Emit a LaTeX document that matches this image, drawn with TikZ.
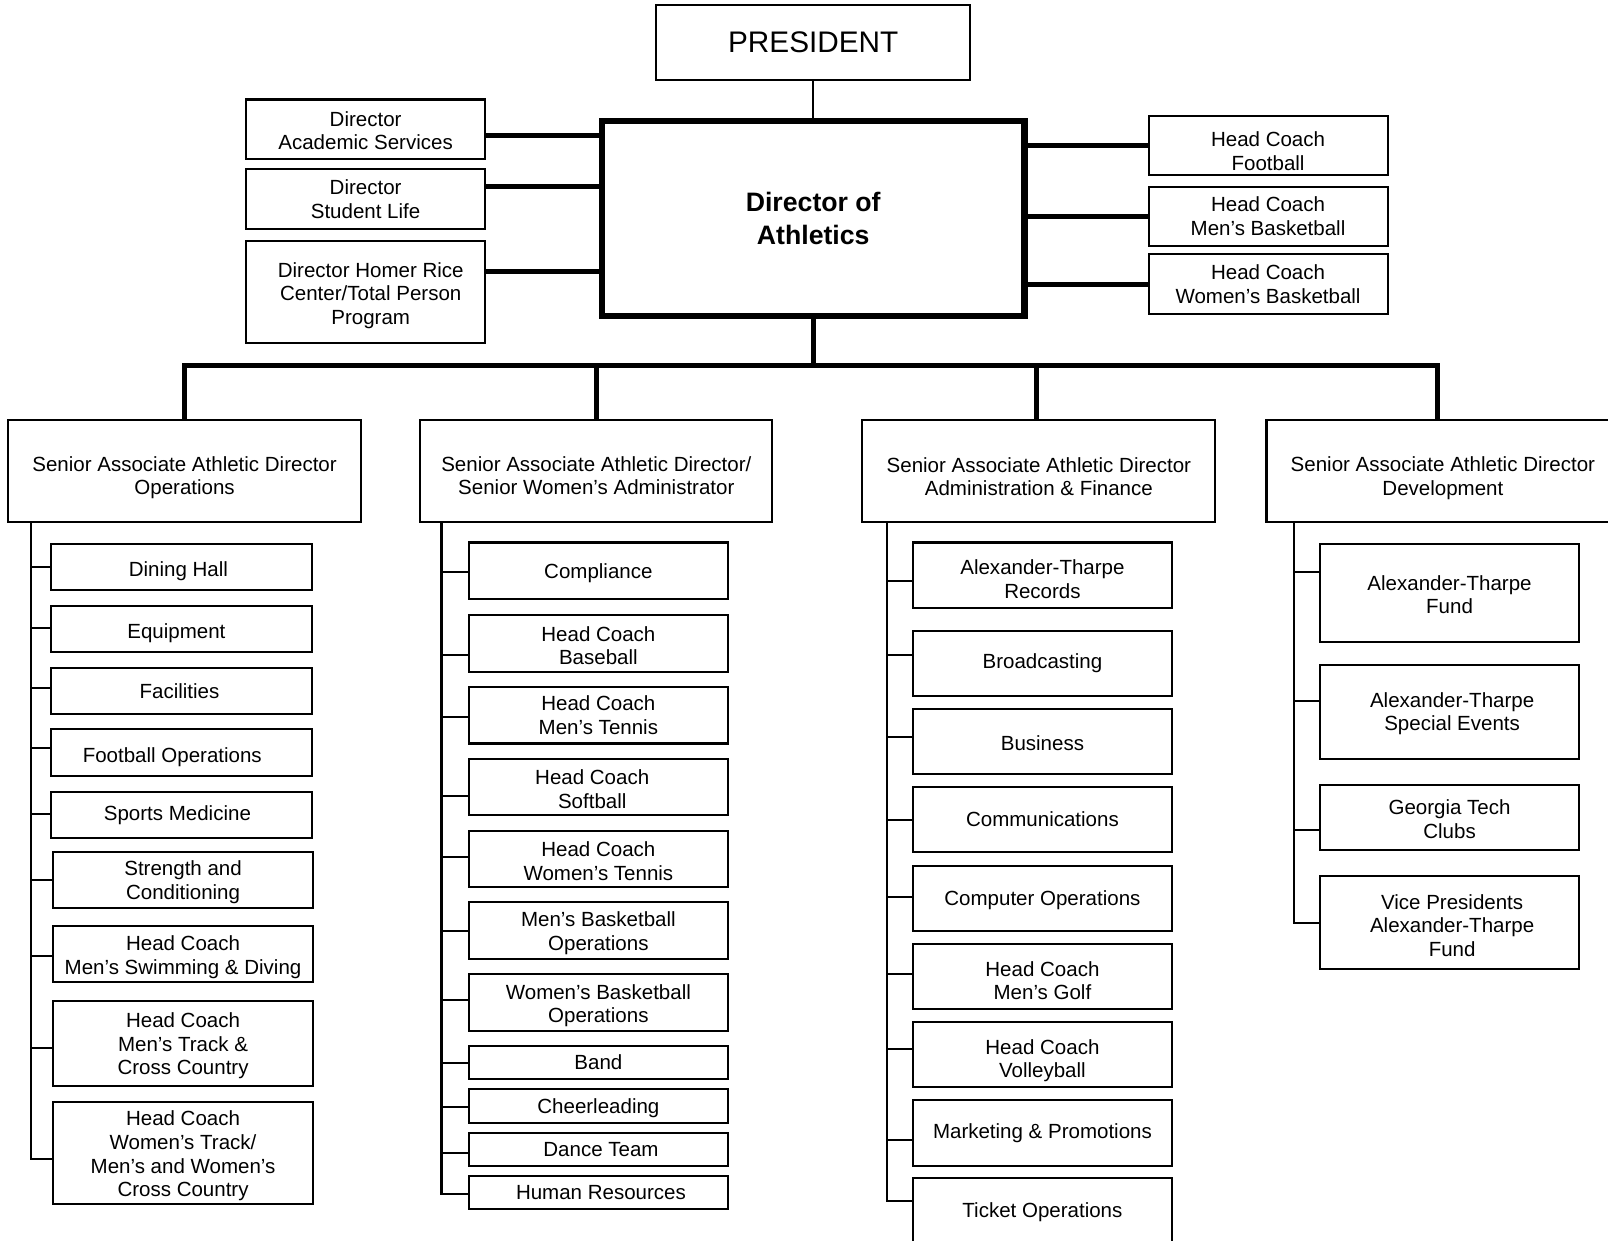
\documentclass[tikz,border=0pt]{standalone}
\usepackage{fontspec}
\setmainfont{Liberation Sans}
\newcommand\myup[1]{\rule{0pt}{#1}}
\begin{document}
\begin{tikzpicture}[x=1pt,y=-1pt,
  box/.style={draw, line width=2pt, inner sep=0pt, align=center, font=\fontsize{20}{23}\selectfont},
  lnk/.style={line width=2pt},
  heavy/.style={line width=5pt}]
\useasboundingbox (0,0) rectangle (1568,1210);
\clip (0,0) rectangle (1568,1210);
\fill[white] (0,0) rectangle (1568,1210);

% top
\node[box, minimum width=306pt, minimum height=73pt, font=\fontsize{29}{33}\selectfont] (pres) at (793,41.5) {PRESIDENT};
\node[box, line width=6pt, minimum width=412pt, minimum height=190pt, font=\bfseries\fontsize{26}{33}\selectfont] (da) at (793,213) {Director of\\Athletics};

\node[box, minimum width=233pt, minimum height=58pt] (acad) at (356.5,126) {\myup{17pt}Director\\Academic Services};
\node[box, minimum width=233pt, minimum height=58pt] (stud) at (356.5,194) {Director\\Student Life};
\node[box, minimum width=233pt, minimum height=99pt] (homer) at (356.5,284.5) {\myup{21.5pt}\hspace*{10pt}Director Homer Rice\\\hspace*{10pt}Center/Total Person\\\hspace*{10pt}Program};

\node[box, minimum width=233pt, minimum height=58pt] (hcf) at (1236.5,142) {\myup{25pt}Head Coach\\Football};
\node[box, minimum width=233pt, minimum height=58pt] (hcm) at (1236.5,211) {Head Coach\\Men’s Basketball};
\node[box, minimum width=233pt, minimum height=58pt] (hcw) at (1236.5,277) {Head Coach\\Women’s Basketball};

\draw[lnk] (pres.south) -- (da.north);
\draw[heavy] (acad.east |- 0,132) -- (da.west |- 0,132);
\draw[heavy] (stud.east |- 0,182) -- (da.west |- 0,182);
\draw[heavy] (homer.east |- 0,265) -- (da.west |- 0,265);
\draw[heavy] (da.east |- hcf.west) -- (hcf.west);
\draw[heavy] (da.east |- hcm.west) -- (hcm.west);
\draw[heavy] (da.east |- hcw.west) -- (hcw.west);

% level 2
\node[box, minimum width=344pt, minimum height=99pt] (ops) at (180,459.5) {\myup{27pt}Senior Associate Athletic Director\\Operations};
\node[box, minimum width=343pt, minimum height=99pt] (swa) at (581.5,459.5) {\myup{23pt}Senior Associate Athletic Director/\\Senior Women’s Administrator};
\node[box, minimum width=344pt, minimum height=99pt] (adm) at (1013,459.5) {\myup{25pt}Senior Associate Athletic Director\\Administration \& Finance};
\node[box, minimum width=344pt, minimum height=99pt] (dev) at (1407,459.5) {\myup{28pt}Senior Associate Athletic Director\\Development};

\coordinate (bus) at (793,356);
\draw[heavy] (da.south) -- (bus);
\draw[heavy] (ops.north) |- (bus) -| (dev.north -| 1402,0);
\draw[heavy] (swa.north) -- (swa.north |- bus);
\draw[heavy] (adm.north -| 1011,0) -- (1011,0 |- bus);

% operations column
\node[box, minimum width=254pt, minimum height=45pt] (dh) at (177,553) {\myup{23pt}Dining Hall\hspace*{6pt}};
\node[box, minimum width=254pt, minimum height=45pt] (eq) at (177,613.5) {\myup{23pt}Equipment\hspace*{10pt}};
\node[box, minimum width=254pt, minimum height=45pt] (fac) at (177,674) {Facilities\hspace*{4pt}};
\node[box, minimum width=254pt, minimum height=46pt] (fo) at (177,734) {\myup{23pt}Football Operations\hspace*{18pt}};
\node[box, minimum width=254pt, minimum height=45pt] (sm) at (177,794.5) {Sports Medicine\hspace*{8pt}};
\node[box, minimum width=253pt, minimum height=54pt] (sc) at (178.5,858) {\myup{19pt}Strength and\\Conditioning};
\node[box, minimum width=253pt, minimum height=55pt] (sw) at (178.5,930.5) {\myup{20pt}Head Coach\\Men’s Swimming \& Diving};
\node[box, minimum width=253pt, minimum height=83pt] (mt) at (178.5,1017.5) {\myup{19pt}Head Coach\\Men’s Track \&\\Cross Country};
\node[box, minimum width=253pt, minimum height=99pt] (wt) at (178.5,1124.5) {\myup{20pt}Head Coach\\Women’s Track/\\Men’s and Women’s\\Cross Country};

\coordinate (opsT) at (ops.south -| 30,0);
\draw[lnk] (opsT) |- (wt.west |- 0,1130);
\foreach \n/\y in {dh/553, eq/612, fac/671, fo/729, sm/794, sc/858, sw/932, mt/1022}
  \draw[lnk] (opsT |- 0,\y) -- (\n.west |- 0,\y);

% SWA column
\node[box, minimum width=253pt, minimum height=55pt] (comp) at (583.5,556.5) {\myup{19pt}Compliance};
\node[box, minimum width=253pt, minimum height=55pt] (base) at (583.5,627.5) {\myup{19pt}Head Coach\\Baseball};
\node[box, minimum width=253pt, minimum height=55pt] (mten) at (583.5,697.5) {Head Coach\\Men’s Tennis};
\node[box, minimum width=253pt, minimum height=55pt] (soft) at (583.5,767.5) {\myup{18pt}Head Coach\hspace*{12pt}\\Softball\hspace*{12pt}};
\node[box, minimum width=253pt, minimum height=55pt] (wten) at (583.5,837.5) {\myup{19.5pt}Head Coach\\Women’s Tennis};
\node[box, minimum width=253pt, minimum height=55pt] (mbb) at (583.5,907.5) {\myup{19pt}Men’s Basketball\\Operations};
\node[box, minimum width=253pt, minimum height=55pt] (wbb) at (583.5,977.5) {\myup{20.5pt}Women’s Basketball\\Operations};
\node[box, minimum width=253pt, minimum height=32pt] (band) at (583.5,1036) {Band};
\node[box, minimum width=253pt, minimum height=33pt] (cheer) at (583.5,1078.5) {\myup{18pt}Cheerleading};
\node[box, minimum width=253pt, minimum height=32pt] (dance) at (583.5,1121) {\hspace*{5pt}Dance Team};
\node[box, minimum width=253pt, minimum height=32pt] (hr) at (583.5,1163) {\hspace*{5pt}Human Resources};

\coordinate (swaT) at (swa.south -| 430.5,0);
\draw[lnk] (swaT) |- (hr.west |- 0,1164);
\foreach \n/\y in {comp/558, base/639, mten/699, soft/776, wten/836, mbb/908, wbb/975, band/1037, cheer/1079, dance/1124}
  \draw[lnk] (swaT |- 0,\y) -- (\n.west |- 0,\y);

% Admin column
\node[box, minimum width=253pt, minimum height=64pt] (rec) at (1016.5,561) {\myup{22pt}Alexander-Tharpe\\Records};
\node[box, minimum width=253pt, minimum height=63pt] (brd) at (1016.5,647) {Broadcasting};
\node[box, minimum width=253pt, minimum height=63pt] (bus2) at (1016.5,723) {\myup{18pt}Business};
\node[box, minimum width=253pt, minimum height=64pt] (comm) at (1016.5,799) {Communications};
\node[box, minimum width=253pt, minimum height=63pt] (cops) at (1016.5,876) {\myup{19pt}Computer Operations};
\node[box, minimum width=253pt, minimum height=63pt] (golf) at (1016.5,952) {\myup{23pt}Head Coach\\Men’s Golf};
\node[box, minimum width=253pt, minimum height=63pt] (vb) at (1016.5,1028) {\myup{27pt}Head Coach\\Volleyball};
\node[box, minimum width=253pt, minimum height=64pt] (mkt) at (1016.5,1105) {Marketing \& Promotions};
\node[box, minimum width=253pt, minimum height=66pt] (tick) at (1016.5,1182) {Ticket Operations};

\coordinate (admT) at (adm.south -| 864.5,0);
\draw[lnk] (admT) |- (tick.west |- 0,1171);
\foreach \n/\y in {rec/567, brd/639, bus2/719, comm/800, cops/875, golf/950, vb/1023, mkt/1112}
  \draw[lnk] (admT |- 0,\y) -- (\n.west |- 0,\y);

% Development column
\node[box, minimum width=253pt, minimum height=96pt] (atf) at (1413.5,578) {\myup{18pt}Alexander-Tharpe\\Fund};
\node[box, minimum width=253pt, minimum height=92pt] (ase) at (1413.5,694) {\myup{18.5pt}\hspace*{5pt}Alexander-Tharpe\\\hspace*{5pt}Special Events};
\node[box, minimum width=253pt, minimum height=64pt] (gtc) at (1413.5,797) {\myup{18.5pt}Georgia Tech\\Clubs};
\node[box, minimum width=253pt, minimum height=91pt] (vp) at (1413.5,899.5) {\myup{20.5pt}\hspace*{5pt}Vice Presidents\\\hspace*{5pt}Alexander-Tharpe\\\hspace*{5pt}Fund};

\coordinate (devT) at (dev.south -| 1262,0);
\draw[lnk] (devT) |- (vp.west |- 0,900);
\foreach \n/\y in {atf/558, ase/684, gtc/809}
  \draw[lnk] (devT |- 0,\y) -- (\n.west |- 0,\y);
\end{tikzpicture}
\end{document}
